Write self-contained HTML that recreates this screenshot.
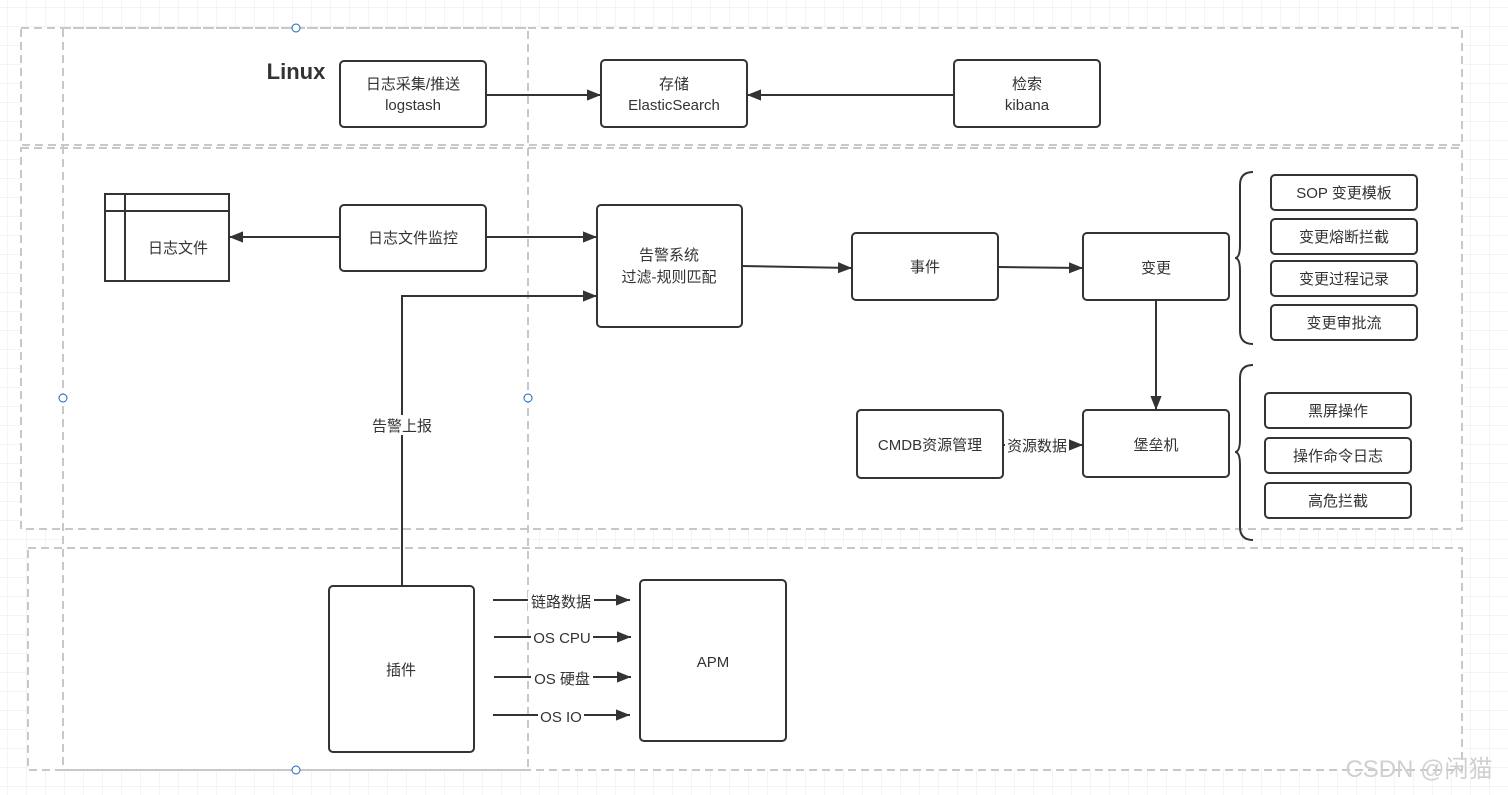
<!DOCTYPE html>
<html><head><meta charset="utf-8"><style>
html,body{margin:0;padding:0;background:#fff;}
svg{display:block;font-family:"Liberation Sans","Noto Sans CJK SC",sans-serif;}
</style></head><body>
<svg width="1508" height="795" viewBox="0 0 1508 795" xmlns="http://www.w3.org/2000/svg">
<defs>
<pattern id="g" width="19" height="19" patternUnits="userSpaceOnUse" x="8" y="8">
<path d="M19 0V19M0 19H19" fill="none" stroke="#e8e8e8" stroke-width="1"/>
</pattern>
<marker id="a" viewBox="0 0 10 10" refX="10" refY="5" markerWidth="14" markerHeight="14" markerUnits="userSpaceOnUse" orient="auto">
<path d="M0 1L10 5L0 9Z" fill="#333"/>
</marker>
</defs>
<rect width="1508" height="795" fill="url(#g)"/>
<g fill="#fff">
<rect x="21" y="28" width="1441" height="117"/>
<rect x="21" y="148" width="1441" height="381"/>
<rect x="28" y="548" width="1434" height="222"/>
<rect x="63" y="28" width="465" height="742"/>
</g>
<g fill="none" stroke="#c8c8c8" stroke-width="2" stroke-dasharray="8,5">
<rect x="21" y="28" width="1441" height="117"/>
<rect x="21" y="148" width="1441" height="381"/>
<rect x="28" y="548" width="1434" height="222"/>
<rect x="63" y="28" width="465" height="742"/>
</g>
<g fill="#fff" stroke="#1565c0" stroke-width="1">
<circle cx="296" cy="28" r="4"/><circle cx="296" cy="770" r="4"/>
<circle cx="63" cy="398" r="4"/><circle cx="528" cy="398" r="4"/>
</g>
<text x="296" y="79" font-size="22" font-weight="bold" fill="#333" text-anchor="middle">Linux</text>
<g fill="#fff" stroke="#333" stroke-width="2">
<rect x="340" y="61" width="146" height="66" rx="4"/>
<rect x="601" y="60" width="146" height="67" rx="4"/>
<rect x="954" y="60" width="146" height="67" rx="4"/>
<rect x="105" y="194" width="124" height="87"/>
<rect x="340" y="205" width="146" height="66" rx="4"/>
<rect x="597" y="205" width="145" height="122" rx="4"/>
<rect x="852" y="233" width="146" height="67" rx="4"/>
<rect x="1083" y="233" width="146" height="67" rx="4"/>
<rect x="1083" y="410" width="146" height="67" rx="4"/>
<rect x="857" y="410" width="146" height="68" rx="4"/>
<rect x="1271" y="175" width="146" height="35" rx="4"/>
<rect x="1271" y="219" width="146" height="35" rx="4"/>
<rect x="1271" y="261" width="146" height="35" rx="4"/>
<rect x="1271" y="305" width="146" height="35" rx="4"/>
<rect x="1265" y="393" width="146" height="35" rx="4"/>
<rect x="1265" y="438" width="146" height="35" rx="4"/>
<rect x="1265" y="483" width="146" height="35" rx="4"/>
<rect x="329" y="586" width="145" height="166" rx="4"/>
<rect x="640" y="580" width="146" height="161" rx="4"/>
</g>
<g fill="none" stroke="#333" stroke-width="2">
<path d="M125 194V281M105 211H229"/>
<path d="M1253 172Q1240 172 1240 185V245Q1240 258 1235 258Q1240 258 1240 271V331Q1240 344 1253 344"/>
<path d="M1253 365Q1240 365 1240 378V439Q1240 452 1235 452Q1240 452 1240 465V527Q1240 540 1253 540"/>
<path d="M486 95H601" marker-end="url(#a)"/>
<path d="M954 95H747" marker-end="url(#a)"/>
<path d="M340 237H229" marker-end="url(#a)"/>
<path d="M486 237H597" marker-end="url(#a)"/>
<path d="M402 586V296H597" marker-end="url(#a)"/>
<path d="M742 266L852 268" marker-end="url(#a)"/>
<path d="M998 267L1083 268" marker-end="url(#a)"/>
<path d="M1156 300V410" marker-end="url(#a)"/>
<path d="M1003 445H1083" marker-end="url(#a)"/>
<path d="M493 600H630" marker-end="url(#a)"/>
<path d="M494 637H631" marker-end="url(#a)"/>
<path d="M494 677H631" marker-end="url(#a)"/>
<path d="M493 715H630" marker-end="url(#a)"/>
</g>
<g fill="#fff">
<rect x="366" y="415" width="72" height="20"/>
<rect x="1005" y="435" width="64" height="20"/>
<rect x="528" y="591" width="66" height="20"/>
<rect x="531" y="628" width="62" height="20"/>
<rect x="531" y="668" width="62" height="20"/>
<rect x="538" y="706" width="46" height="20"/>
</g>
<g font-size="15" fill="#333" text-anchor="middle">
<text x="413" y="89">日志采集/推送</text><text x="413" y="110">logstash</text>
<text x="674" y="89">存储</text><text x="674" y="110">ElasticSearch</text>
<text x="1027" y="89">检索</text><text x="1027" y="110">kibana</text>
<text x="178" y="253">日志文件</text>
<text x="413" y="243">日志文件监控</text>
<text x="669" y="260">告警系统</text><text x="669" y="282">过滤-规则匹配</text>
<text x="925" y="272">事件</text>
<text x="1156" y="273">变更</text>
<text x="1156" y="450">堡垒机</text>
<text x="930" y="450">CMDB资源管理</text>
<text x="1037" y="451">资源数据</text>
<text x="402" y="431">告警上报</text>
<text x="1344" y="198">SOP 变更模板</text>
<text x="1344" y="242">变更熔断拦截</text>
<text x="1344" y="284">变更过程记录</text>
<text x="1344" y="328">变更审批流</text>
<text x="1338" y="416">黑屏操作</text>
<text x="1338" y="461">操作命令日志</text>
<text x="1338" y="506">高危拦截</text>
<text x="401" y="675">插件</text>
<text x="713" y="667">APM</text>
<text x="561" y="607">链路数据</text>
<text x="562" y="643">OS CPU</text>
<text x="562" y="684">OS 硬盘</text>
<text x="561" y="722">OS IO</text>
</g>
<text x="1419" y="777" font-size="24" fill="#d0d0d0" text-anchor="middle">CSDN @闲猫</text>
</svg>
</body></html>
